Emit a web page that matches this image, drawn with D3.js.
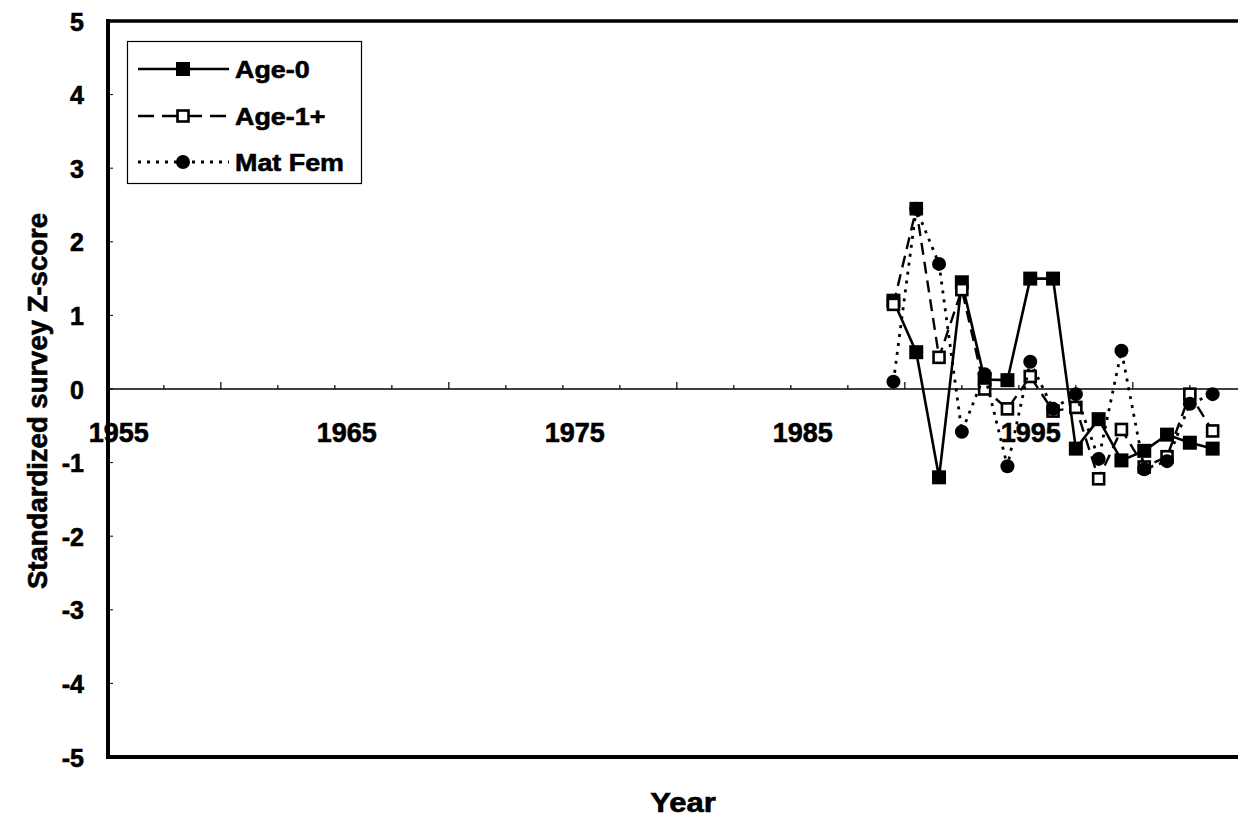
<!DOCTYPE html>
<html>
<head>
<meta charset="utf-8">
<script src="https://cdn.jsdelivr.net/npm/d3@7/dist/d3.min.js"></script>
<style>
  html, body { margin: 0; padding: 0; background: #fff; }
  svg { display: block; }
  text { font-family: "Liberation Sans", Arial, sans-serif; fill: #000; stroke: #000; stroke-width: 0.6px; }
</style>
</head>
<body>
<svg id="chart" width="1238" height="825"></svg>
<script>
// Survey years and standardized Z-scores per group
const years  = [1989, 1990, 1991, 1992, 1993, 1994, 1995, 1996, 1997, 1998, 1999, 2000, 2001, 2002, 2003];
const age0   = [1.2, 0.5, -1.2, 1.45, 0.13, 0.12, 1.5, 1.5, -0.81, -0.41, -0.97, -0.84, -0.62, -0.73, -0.81];
const age1   = [1.15, 2.45, 0.43, 1.35, 0.0, -0.27, 0.17, -0.3, -0.25, -1.22, -0.55, -1.06, -0.92, -0.07, -0.57];
const matFem = [0.1, 2.45, 1.7, -0.58, 0.2, -1.05, 0.37, -0.27, -0.07, -0.95, 0.52, -1.09, -0.98, -0.2, -0.07];

const seriesNames = ["Age-0", "Age-1+", "Mat Fem"];
const xTickLabels = [1955, 1965, 1975, 1985, 1995];
const yTickValues = [5, 4, 3, 2, 1, 0, -1, -2, -3, -4, -5];
const minorXTicks = d3.range(1957, 2004, 2.5);

const svg = d3.select("#chart");

const plot = { left: 108, right: 1240, top: 21, bottom: 757 };

const x = d3.scaleLinear().domain([1954.55, 2004.2]).range([plot.left, plot.right]);
const y = d3.scaleLinear().domain([-5, 5]).range([plot.bottom, plot.top]);

// plain hyphen for negative numbers
const fmt = d => String(d);

const series = [
  { name: seriesNames[0], values: age0,   dash: null,   width: 2.6, marker: "filledSquare" },
  { name: seriesNames[1], values: age1,   dash: "12,7", width: 2.4, marker: "openSquare" },
  { name: seriesNames[2], values: matFem, dash: "3,6",  width: 2.8, marker: "circle" }
];

// Zero line with small upward tick marks
svg.append("line")
  .attr("x1", plot.left).attr("x2", plot.right)
  .attr("y1", y(0)).attr("y2", y(0))
  .attr("stroke", "#000").attr("stroke-width", 1.3);

svg.append("g").selectAll("line").data(minorXTicks).join("line")
  .attr("x1", d => x(d)).attr("x2", d => x(d))
  .attr("y1", y(0)).attr("y2", (d, i) => y(0) - (i % 4 === 1 ? 7 : 4))
  .attr("stroke", "#000").attr("stroke-width", 1.2);

// Y axis ticks (inside) and labels
const yAxis = d3.axisLeft(y).tickValues(yTickValues).tickSize(0).tickPadding(0).tickFormat(fmt);
const yG = svg.append("g").attr("transform", `translate(${plot.left},0)`).call(yAxis);
yG.select(".domain").remove();
yG.selectAll("text")
  .attr("x", -24)
  .attr("dy", "0.36em")
  .style("font-size", "25px").style("font-weight", "bold").attr("fill", "#000")
  .attr("text-anchor", "end");
svg.append("g").selectAll("line").data(yTickValues).join("line")
  .attr("x1", plot.left).attr("x2", plot.left + 5)
  .attr("y1", d => y(d)).attr("y2", d => y(d))
  .attr("stroke", "#000").attr("stroke-width", 1);

// X axis labels placed just under the zero line
const xAxis = d3.axisBottom(x).tickValues(xTickLabels).tickSize(0).tickPadding(0).tickFormat(fmt);
const xG = svg.append("g").attr("transform", `translate(0,${y(0)})`).call(xAxis);
xG.select(".domain").remove();
xG.selectAll("text")
  .attr("y", 53).attr("dy", 0)
  .style("font-size", "27px").style("font-weight", "bold").attr("fill", "#000");

// Plot frame: left axis, top and bottom borders
svg.append("line").attr("x1", plot.left).attr("x2", plot.left).attr("y1", plot.top - 2).attr("y2", plot.bottom + 2)
  .attr("stroke", "#000").attr("stroke-width", 4);
svg.append("line").attr("x1", plot.left).attr("x2", plot.right).attr("y1", plot.top).attr("y2", plot.top)
  .attr("stroke", "#000").attr("stroke-width", 3.5);
svg.append("line").attr("x1", plot.left).attr("x2", plot.right).attr("y1", plot.bottom).attr("y2", plot.bottom)
  .attr("stroke", "#000").attr("stroke-width", 4);

// Marker drawing
function drawMarker(g, type, cx, cy) {
  if (type === "filledSquare") {
    g.append("rect").attr("x", cx - 7).attr("y", cy - 7).attr("width", 14).attr("height", 14)
      .attr("fill", "#000");
  } else if (type === "openSquare") {
    g.append("rect").attr("x", cx - 5.5).attr("y", cy - 5.5).attr("width", 11).attr("height", 11)
      .attr("fill", "#fff").attr("stroke", "#000").attr("stroke-width", 2.6);
  } else {
    g.append("circle").attr("cx", cx).attr("cy", cy).attr("r", 7).attr("fill", "#000");
  }
}

const line = d3.line().x((d, i) => x(years[i])).y(d => y(d));

series.forEach(s => {
  const g = svg.append("g");
  g.append("path")
    .attr("d", line(s.values))
    .attr("fill", "none")
    .attr("stroke", "#000")
    .attr("stroke-width", s.width)
    .attr("stroke-dasharray", s.dash);
  s.values.forEach((v, i) => drawMarker(g, s.marker, x(years[i]), y(v)));
});

// Legend
const legend = svg.append("g");
legend.append("rect")
  .attr("x", 127.5).attr("y", 41.5).attr("width", 234).attr("height", 142)
  .attr("fill", "#fff").attr("stroke", "#000").attr("stroke-width", 1.2);
const rowsY = [69, 116, 162];
series.forEach((s, i) => {
  const ly = rowsY[i];
  legend.append("line")
    .attr("x1", 138).attr("x2", 229).attr("y1", ly).attr("y2", ly)
    .attr("stroke", "#000").attr("stroke-width", s.width)
    .attr("stroke-dasharray", s.marker === "openSquare" ? "16,8" : s.dash);
  drawMarker(legend, s.marker, 183, ly);
  legend.append("text")
    .attr("transform", `translate(235,${ly + 9}) scale(1.12,1)`)
    .style("font-size", "24px").style("font-weight", "bold")
    .text(s.name);
});

// Axis titles
svg.append("text")
  .attr("transform", `translate(47,401) rotate(-90)`)
  .attr("text-anchor", "middle")
  .style("font-size", "27.5px").style("font-weight", "bold")
  .text("Standardized survey Z-score");

svg.append("text")
  .attr("transform", `translate(683,812) scale(1.15,1)`)
  .attr("text-anchor", "middle")
  .style("font-size", "27px").style("font-weight", "bold")
  .text("Year");
</script>
</body>
</html>
